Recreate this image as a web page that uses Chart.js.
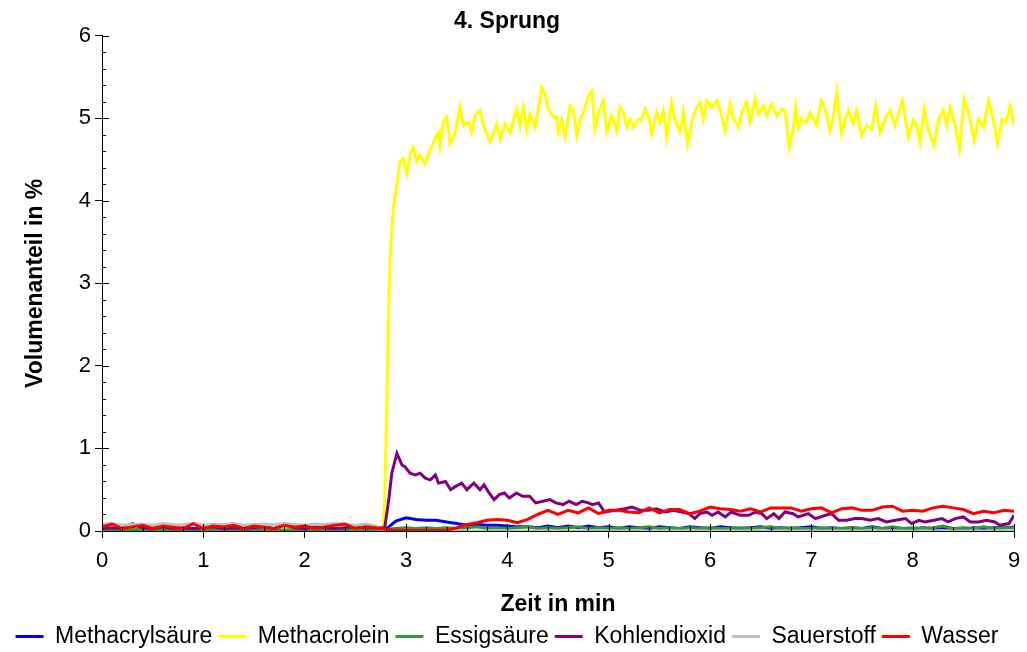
<!DOCTYPE html>
<html>
<head>
<meta charset="utf-8">
<title>4. Sprung</title>
<script src="https://cdn.jsdelivr.net/npm/chart.js@4.4.1/dist/chart.umd.min.js"></script>
<style>
  html, body { margin: 0; padding: 0; background: #fff; }
  #box { width: 1027px; height: 652px; }
</style>
</head>
<body>
<div id="box"><canvas id="sprung" width="1027" height="652"></canvas></div>
<script>
// Zeitraster 0.1 min fuer die kleinen Komponenten
const zeitRaster = [
  0.0, 0.1, 0.2, 0.3, 0.4, 0.5, 0.6, 0.7, 0.8, 0.9,
  1.0, 1.1, 1.2, 1.3, 1.4, 1.5, 1.6, 1.7, 1.8, 1.9,
  2.0, 2.1, 2.2, 2.3, 2.4, 2.5, 2.6, 2.7, 2.8, 2.9,
  3.0, 3.1, 3.2, 3.3, 3.4, 3.5, 3.6, 3.7, 3.8, 3.9,
  4.0, 4.1, 4.2, 4.3, 4.4, 4.5, 4.6, 4.7, 4.8, 4.9,
  5.0, 5.1, 5.2, 5.3, 5.4, 5.5, 5.6, 5.7, 5.8, 5.9,
  6.0, 6.1, 6.2, 6.3, 6.4, 6.5, 6.6, 6.7, 6.8, 6.9,
  7.0, 7.1, 7.2, 7.3, 7.4, 7.5, 7.6, 7.7, 7.8, 7.9,
  8.0, 8.1, 8.2, 8.3, 8.4, 8.5, 8.6, 8.7, 8.8, 8.9,
  9.0
];

const methacrylsaeure = [
  0.02, 0.03, 0.02, 0.02, 0.03, 0.02, 0.02, 0.03, 0.02, 0.02,
  0.03, 0.02, 0.02, 0.03, 0.02, 0.02, 0.03, 0.02, 0.02, 0.03,
  0.02, 0.02, 0.03, 0.02, 0.02, 0.03, 0.02, 0.02, 0.02, 0.12,
  0.16, 0.14, 0.13, 0.13, 0.11, 0.09, 0.07, 0.08, 0.07, 0.07,
  0.06, 0.05, 0.05, 0.04, 0.06, 0.04, 0.06, 0.04, 0.06, 0.04,
  0.05, 0.03, 0.05, 0.04, 0.03, 0.05, 0.04, 0.03, 0.05, 0.04,
  0.03, 0.05, 0.04, 0.03, 0.04, 0.05, 0.03, 0.04, 0.03, 0.04,
  0.05, 0.03, 0.04, 0.03, 0.04, 0.03, 0.05, 0.03, 0.04, 0.03,
  0.02, 0.04, 0.03, 0.04, 0.03, 0.02, 0.04, 0.03, 0.04, 0.04,
  0.05
];

const essigsaeure = [
  0.01, 0.02, 0.01, 0.015, 0.02, 0.01, 0.02, 0.01, 0.015, 0.02,
  0.01, 0.02, 0.015, 0.01, 0.02, 0.01, 0.015, 0.02, 0.01, 0.02,
  0.015, 0.01, 0.02, 0.01, 0.02, 0.015, 0.01, 0.02, 0.02, 0.03,
  0.04, 0.03, 0.04, 0.03, 0.04, 0.03, 0.04, 0.05, 0.03, 0.04,
  0.03, 0.04, 0.05, 0.03, 0.04, 0.03, 0.04, 0.05, 0.03, 0.04,
  0.03, 0.04, 0.03, 0.04, 0.05, 0.03, 0.04, 0.03, 0.04, 0.03,
  0.04, 0.03, 0.03, 0.04, 0.03, 0.04, 0.05, 0.03, 0.04, 0.03,
  0.03, 0.04, 0.03, 0.03, 0.04, 0.03, 0.04, 0.03, 0.05, 0.03,
  0.04, 0.03, 0.04, 0.06, 0.03, 0.04, 0.03, 0.05, 0.03, 0.04,
  0.04
];

const wasser = [
  0.05, 0.085, 0.03, 0.05, 0.07, 0.03, 0.06, 0.045, 0.03, 0.09,
  0.03, 0.06, 0.05, 0.07, 0.03, 0.06, 0.045, 0.028, 0.07, 0.045,
  0.06, 0.03, 0.05, 0.07, 0.085, 0.03, 0.05, 0.04, 0.02, 0.005,
  0.005, 0.005, 0.005, 0.005, 0.005, 0.04, 0.08, 0.10, 0.13, 0.14,
  0.13, 0.10, 0.14, 0.20, 0.25, 0.20, 0.25, 0.22, 0.28, 0.21,
  0.25, 0.25, 0.23, 0.22, 0.28, 0.22, 0.26, 0.26, 0.21, 0.24,
  0.29, 0.27, 0.26, 0.24, 0.27, 0.23, 0.28, 0.28, 0.28, 0.24,
  0.27, 0.28, 0.22, 0.27, 0.28, 0.25, 0.25, 0.29, 0.30, 0.24,
  0.25, 0.24, 0.28, 0.30, 0.28, 0.26, 0.21, 0.24, 0.22, 0.25,
  0.24
];

const sauerstoffZeit = [
  0.0, 0.1, 0.2, 0.3, 0.4, 0.5, 0.6, 0.7, 0.8, 0.9,
  1.0, 1.1, 1.2, 1.3, 1.4, 1.5, 1.6, 1.7, 1.8, 1.9,
  2.0, 2.1, 2.2, 2.3, 2.4, 2.5, 2.6, 2.7, 2.8, 9.0
];
const sauerstoff = [
  0.08, 0.09, 0.07, 0.08, 0.085, 0.07, 0.09, 0.08, 0.075, 0.095,
  0.07, 0.085, 0.08, 0.09, 0.07, 0.08, 0.085, 0.075, 0.09, 0.08,
  0.07, 0.085, 0.08, 0.09, 0.08, 0.07, 0.085, 0.06, 0.0, 0.0
];

const kohlendioxidZeit = [
  0.0, 0.1, 0.2, 0.3, 0.4, 0.5, 0.6, 0.7, 0.8, 0.9,
  1.0, 1.1, 1.2, 1.3, 1.4, 1.5, 1.6, 1.7, 1.8, 1.9,
  2.0, 2.1, 2.2, 2.3, 2.4, 2.5, 2.6, 2.7, 2.79, 2.83,
  2.86, 2.91, 2.96, 2.99, 3.04, 3.09, 3.14, 3.19, 3.24, 3.29,
  3.32, 3.39, 3.44, 3.49, 3.55, 3.6, 3.67, 3.73, 3.77, 3.82,
  3.87, 3.92, 3.97, 4.02, 4.09, 4.15, 4.22, 4.28, 4.35, 4.42,
  4.48, 4.55, 4.61, 4.68, 4.74, 4.8, 4.84, 4.9, 4.96, 5.06,
  5.16, 5.23, 5.31, 5.39, 5.47, 5.56, 5.64, 5.72, 5.79, 5.85,
  5.9, 5.97, 6.02, 6.08, 6.15, 6.21, 6.3, 6.38, 6.45, 6.51,
  6.56, 6.63, 6.68, 6.74, 6.82, 6.87, 6.97, 7.04, 7.14, 7.2,
  7.27, 7.35, 7.43, 7.5, 7.58, 7.66, 7.74, 7.83, 7.93, 7.99,
  8.06, 8.12, 8.21, 8.29, 8.35, 8.42, 8.5, 8.57, 8.65, 8.73,
  8.81, 8.86, 8.95, 8.99, 9.0
];
const kohlendioxid = [
  0.03, 0.04, 0.03, 0.09, 0.04, 0.03, 0.05, 0.03, 0.04, 0.03,
  0.04, 0.05, 0.03, 0.04, 0.03, 0.04, 0.05, 0.03, 0.09, 0.04,
  0.03, 0.05, 0.04, 0.03, 0.04, 0.05, 0.04, 0.04, 0.04, 0.38,
  0.70, 0.94, 0.80, 0.78, 0.70, 0.68, 0.70, 0.64, 0.62, 0.68,
  0.58, 0.60, 0.50, 0.54, 0.58, 0.50, 0.58, 0.50, 0.56, 0.46,
  0.38, 0.44, 0.46, 0.40, 0.46, 0.42, 0.42, 0.34, 0.36, 0.38,
  0.34, 0.32, 0.36, 0.32, 0.36, 0.34, 0.32, 0.34, 0.23, 0.25,
  0.27, 0.29, 0.25, 0.25, 0.27, 0.23, 0.25, 0.23, 0.21, 0.15,
  0.21, 0.23, 0.19, 0.23, 0.17, 0.23, 0.19, 0.19, 0.23, 0.21,
  0.15, 0.21, 0.15, 0.23, 0.21, 0.17, 0.21, 0.15, 0.19, 0.21,
  0.13, 0.13, 0.15, 0.15, 0.13, 0.15, 0.11, 0.13, 0.15, 0.09,
  0.13, 0.11, 0.13, 0.15, 0.11, 0.15, 0.17, 0.11, 0.11, 0.13,
  0.11, 0.07, 0.09, 0.17, 0.19
];

const methacroleinZeit = [
  0.0, 0.5, 1.0, 1.5, 2.0, 2.5, 2.77, 2.79, 2.81, 2.83,
  2.85, 2.875, 2.908, 2.941, 2.974, 3.007, 3.04, 3.073, 3.106, 3.138,
  3.188, 3.237, 3.286, 3.319, 3.335, 3.368, 3.401, 3.434, 3.484, 3.533,
  3.566, 3.615, 3.648, 3.681, 3.73, 3.763, 3.829, 3.895, 3.928, 3.977,
  4.027, 4.092, 4.125, 4.158, 4.191, 4.224, 4.273, 4.306, 4.339, 4.372,
  4.405, 4.455, 4.488, 4.504, 4.537, 4.57, 4.619, 4.652, 4.685, 4.717,
  4.75, 4.8, 4.832, 4.865, 4.898, 4.947, 4.98, 5.03, 5.079, 5.112,
  5.145, 5.178, 5.211, 5.244, 5.293, 5.326, 5.359, 5.392, 5.425, 5.474,
  5.507, 5.54, 5.573, 5.622, 5.655, 5.704, 5.737, 5.78, 5.82, 5.852,
  5.902, 5.935, 5.967, 6.017, 6.066, 6.099, 6.148, 6.198, 6.231, 6.28,
  6.313, 6.362, 6.395, 6.445, 6.478, 6.527, 6.56, 6.609, 6.659, 6.708,
  6.741, 6.781, 6.823, 6.846, 6.872, 6.905, 6.954, 6.987, 7.02, 7.053,
  7.096, 7.135, 7.185, 7.218, 7.251, 7.267, 7.3, 7.333, 7.366, 7.415,
  7.448, 7.497, 7.547, 7.596, 7.635, 7.678, 7.728, 7.777, 7.826, 7.899,
  7.958, 8.007, 8.04, 8.073, 8.116, 8.155, 8.211, 8.254, 8.304, 8.336,
  8.369, 8.419, 8.462, 8.508, 8.551, 8.607, 8.65, 8.7, 8.749, 8.782,
  8.838, 8.881, 8.92, 8.963, 9.0
];
const methacrolein = [
  0.02, 0.03, 0.02, 0.03, 0.02, 0.03, 0.02, 0.4, 1.5, 2.8,
  3.5, 3.9, 4.19, 4.47, 4.51, 4.33, 4.55, 4.65, 4.47, 4.55,
  4.45, 4.61, 4.75, 4.83, 4.67, 4.95, 5.01, 4.69, 4.81, 5.13,
  4.91, 4.95, 4.83, 5.03, 5.09, 4.91, 4.71, 4.93, 4.75, 4.93,
  4.83, 5.11, 4.91, 5.13, 4.85, 5.05, 4.89, 5.11, 5.37, 5.29,
  5.11, 5.01, 5.01, 4.83, 4.98, 4.77, 5.15, 5.11, 4.79, 4.98,
  5.07, 5.27, 5.33, 4.87, 5.07, 5.21, 4.83, 5.03, 4.85, 5.13,
  5.07, 4.89, 4.99, 4.89, 4.98, 4.98, 5.11, 5.03, 4.81, 5.07,
  4.95, 5.09, 4.77, 5.19, 4.98, 4.83, 5.07, 4.69, 4.95, 5.09,
  5.19, 4.99, 5.21, 5.13, 5.21, 5.11, 4.85, 5.17, 4.99, 4.89,
  5.07, 5.19, 4.95, 5.23, 5.05, 5.15, 5.03, 5.17, 5.03, 5.11,
  5.09, 4.65, 4.87, 5.13, 4.89, 4.99, 4.95, 5.07, 4.99, 4.91,
  5.21, 5.11, 4.85, 5.03, 5.31, 5.11, 4.81, 4.99, 5.09, 4.93,
  5.09, 4.79, 4.91, 4.87, 5.15, 4.83, 4.99, 5.09, 4.91, 5.21,
  4.77, 4.98, 4.91, 4.71, 5.11, 4.85, 4.67, 4.98, 5.09, 4.91,
  5.13, 4.91, 4.63, 5.23, 5.07, 4.73, 4.99, 4.89, 5.21, 5.07,
  4.69, 4.99, 4.95, 5.15, 4.91
];

const xTicks = [0, 1, 2, 3, 4, 5, 6, 7, 8, 9];
const yTicks = [0, 1, 2, 3, 4, 5, 6];

const schrift = "'Liberation Sans', Arial, sans-serif";
Chart.defaults.font.family = schrift;
Chart.defaults.color = '#000';

function punkte(zeit, werte) {
  return zeit.map((t, i) => ({ x: t, y: werte[i] }));
}

const serien = [
  { label: 'Methacrylsäure', farbe: '#0000FF', zeit: zeitRaster, werte: methacrylsaeure },
  { label: 'Methacrolein', farbe: '#FFFF00', zeit: methacroleinZeit, werte: methacrolein },
  { label: 'Essigsäure', farbe: '#339933', zeit: zeitRaster, werte: essigsaeure },
  { label: 'Kohlendioxid', farbe: '#800080', zeit: kohlendioxidZeit, werte: kohlendioxid },
  { label: 'Sauerstoff', farbe: '#C0C0C0', zeit: sauerstoffZeit, werte: sauerstoff },
  { label: 'Wasser', farbe: '#FF0000', zeit: zeitRaster, werte: wasser },
];

// kleine Teilstriche (0.2er Schritte) nach innen + Achsen nochmal drueber
const teilstriche = {
  id: 'teilstriche',
  afterDatasetsDraw(chart) {
    const { ctx, chartArea, scales: { x, y } } = chart;
    ctx.save();
    ctx.strokeStyle = '#000';
    ctx.lineWidth = 1;
    ctx.beginPath();
    for (let k = 0; k <= 45; k++) {
      const px = Math.round(x.getPixelForValue(k * 0.2)) + 0.5;
      const len = k % 5 === 0 ? 7 : 4;
      ctx.moveTo(px, chartArea.bottom);
      ctx.lineTo(px, chartArea.bottom - len);
    }
    for (let k = 0; k <= 30; k++) {
      const py = Math.round(y.getPixelForValue(k * 0.2)) + 0.5;
      const len = k % 5 === 0 ? 7 : 4;
      ctx.moveTo(chartArea.left, py);
      ctx.lineTo(chartArea.left + len, py);
    }
    const l = Math.round(chartArea.left) + 0.5;
    const b = Math.round(chartArea.bottom) + 0.5;
    ctx.moveTo(l, chartArea.top);
    ctx.lineTo(l, b);
    ctx.lineTo(chartArea.right, b);
    ctx.stroke();
    ctx.restore();
  }
};

// Legende etwas tiefer setzen: feste Hoehe
const legendeHoehe = {
  id: 'legendeHoehe',
  beforeLayout(chart) {
    const lg = chart.legend;
    if (lg && !lg.festeHoehe) {
      const fit = lg.fit;
      lg.fit = function () {
        fit.call(this);
        this.height = 33;
      };
      lg.festeHoehe = true;
    }
  }
};

new Chart(document.getElementById('sprung'), {
  type: 'line',
  data: {
    datasets: serien.map((s, i) => ({
      label: s.label,
      data: punkte(s.zeit, s.werte),
      borderColor: s.farbe,
      backgroundColor: s.farbe,
      borderWidth: 3,
      pointRadius: 0,
      pointStyle: 'line',
      tension: 0,
      order: serien.length - i,
    })),
  },
  options: {
    responsive: false,
    animation: false,
    devicePixelRatio: 1,
    layout: { padding: { left: 0, right: 13, top: 0, bottom: 0 } },
    plugins: {
      tooltip: { enabled: false },
      title: {
        display: true,
        text: '4. Sprung',
        color: '#000',
        font: { size: 23, weight: 'bold' },
        padding: { top: 8, bottom: 0 },
      },
      legend: {
        position: 'bottom',
        labels: {
          usePointStyle: true,
          pointStyle: 'line',
          pointStyleWidth: 28,
          color: '#000',
          font: { size: 23 },
          padding: 6,
          sort: (a, b) => a.datasetIndex - b.datasetIndex,
        },
      },
    },
    scales: {
      x: {
        type: 'linear',
        min: 0,
        max: 9,
        afterBuildTicks: (s) => { s.ticks = xTicks.map((v) => ({ value: v })); },
        ticks: { font: { size: 22 }, padding: 10, maxRotation: 0, color: '#000' },
        grid: { drawOnChartArea: false, drawTicks: true, tickLength: 7, color: '#000' },
        border: { color: '#000', width: 1 },
        title: {
          display: true,
          text: 'Zeit in min',
          color: '#000',
          font: { size: 23, weight: 'bold', lineHeight: 1 },
          padding: { top: 0, bottom: 3 },
        },
        afterFit: (s) => {
          s.height = 88;
          s.paddingLeft = 0;
          s.paddingRight = 0;
        },
      },
      y: {
        type: 'linear',
        min: 0,
        max: 6,
        afterBuildTicks: (s) => { s.ticks = yTicks.map((v) => ({ value: v })); },
        ticks: { font: { size: 22 }, padding: 4, color: '#000' },
        grid: { drawOnChartArea: false, drawTicks: true, tickLength: 7, color: '#000' },
        border: { color: '#000', width: 1 },
        title: {
          display: true,
          text: 'Volumenanteil in %',
          color: '#000',
          font: { size: 23, weight: 'bold' },
          padding: { top: 22, bottom: 0 },
        },
        afterFit: (s) => { s.width = 102; },
      },
    },
  },
  plugins: [teilstriche, legendeHoehe],
});
</script>
</body>
</html>
